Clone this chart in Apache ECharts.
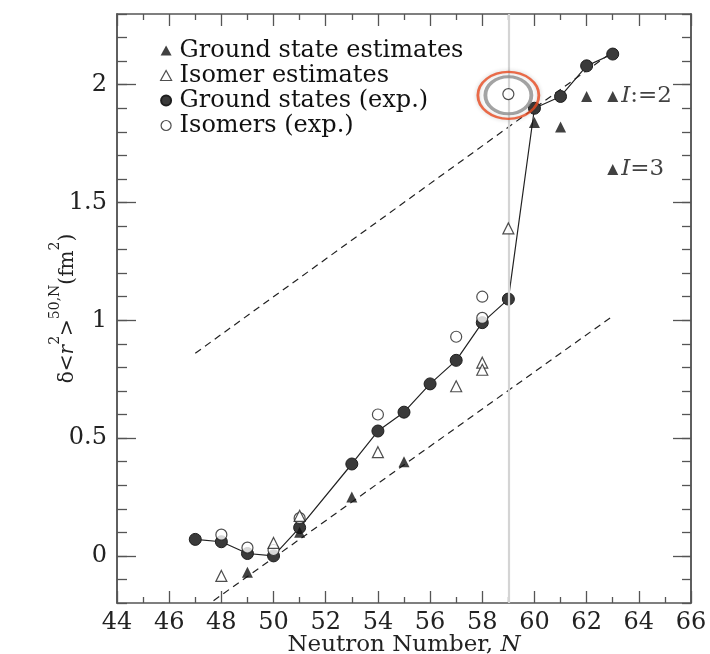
<!DOCTYPE html>
<html>
<head>
<meta charset="utf-8">
<script src="https://cdn.jsdelivr.net/npm/echarts@6/dist/echarts.min.js"></script>
<style>html,body{margin:0;padding:0;background:#fff;}#c{width:710px;height:654px;}</style>
</head>
<body>
<div id="c"></div>
<script>
// ---- data ----
const xTicks = [44, 46, 48, 50, 52, 54, 56, 58, 60, 62, 64, 66];
const yMajorTicks = [0, 0.5, 1, 1.5, 2];

const nGround = [47, 48, 49, 50, 51, 53, 54, 55, 56, 57, 58, 59, 60, 61, 62, 63];
const rGround = [0.07, 0.06, 0.01, 0.00, 0.12, 0.39, 0.53, 0.61, 0.73, 0.83, 0.99, 1.09, 1.90, 1.95, 2.08, 2.13];

const nIsoExp = [48, 49, 50, 51, 54, 57, 58, 58, 59];
const rIsoExp = [0.09, 0.035, 0.025, 0.16, 0.60, 0.93, 1.10, 1.01, 1.96];

const nGroundEst = [49, 51, 53, 55, 60, 61, 62, 63, 63];
const rGroundEst = [-0.07, 0.10, 0.25, 0.40, 1.84, 1.82, 1.95, 1.95, 1.64];
const groundEstTags = ['', '', '', '', '', '', '', 'I:=2', 'I=3'];

const nIsoEst = [48, 50, 51, 54, 57, 58, 58, 59];
const rIsoEst = [-0.085, 0.055, 0.17, 0.44, 0.72, 0.82, 0.79, 1.39];

const trendUpperN = [47, 63];
const trendUpperR = [0.86, 2.14];
const trendLowerN = [47.7, 62.9];
const trendLowerR = [-0.19, 1.01];

const highlightN = [59];
const highlightR = [1.955];
const shellN = 59;

// ---- chart ----
const FONT = 'DejaVu Serif';
const AX = '#555';
const zip = (a, b) => a.map((v, i) => [v, b[i]]);

const chart = echarts.init(document.getElementById('c'), null, {renderer: 'canvas'});

const baseX = {
  type: 'value', min: 44, max: 66, interval: 2,
  axisLine: {show: true, onZero: false, lineStyle: {color: AX, width: 1.5}},
  axisTick: {show: true, inside: true, length: 12, lineStyle: {color: AX, width: 1.3}},
  minorTick: {show: true, splitNumber: 2, length: 6, lineStyle: {color: AX, width: 1.3}},
  splitLine: {show: false}
};
const baseY = {
  type: 'value', min: -0.2, max: 2.3,
  axisLine: {show: true, onZero: false, lineStyle: {color: AX, width: 1.5}},
  splitLine: {show: false}
};

const option = {
  animation: false,
  backgroundColor: '#fff',
  grid: {left: 117, right: 19, top: 14, bottom: 51, containLabel: false, outerBoundsMode: 'none'},
  legend: {
    orient: 'vertical', left: 155, top: 33, itemGap: 0,
    itemWidth: 11, itemHeight: 10,
    textStyle: {fontFamily: FONT, fontSize: 24, color: '#111', lineHeight: 25, padding: [0, 0, 0, 3]},
    data: [
      {name: 'Ground state estimates', icon: 'triangle'},
      {name: 'Isomer estimates', icon: 'triangle', itemStyle: {borderWidth: 1.2}},
      {name: 'Ground states (exp.)', icon: 'circle'},
      {name: 'Isomers (exp.)', icon: 'circle', itemStyle: {borderWidth: 1.2}}
    ]
  },
  xAxis: [
    Object.assign({}, baseX, {
      position: 'bottom',
      axisLabel: {show: true, margin: 8, fontFamily: FONT, fontSize: 24, color: '#222',
        formatter: v => (xTicks.indexOf(v) >= 0 ? String(v) : '')},
      name: '{a|Neutron Number, }{i|N}',
      nameLocation: 'middle', nameGap: 31, nameMoveOverlap: false,
      nameTextStyle: {rich: {
        a: {fontFamily: FONT, fontSize: 23, color: '#222'},
        i: {fontFamily: FONT, fontSize: 23, fontStyle: 'italic', color: '#222'}
      }}
    }),
    Object.assign({}, baseX, {position: 'top', axisLabel: {show: false}})
  ],
  yAxis: [
    Object.assign({}, baseY, {
      position: 'left', interval: 0.1,
      axisTick: {show: true, inside: true, length: 10, lineStyle: {color: AX, width: 1.3}},
      axisLabel: {show: true, margin: 10, fontFamily: FONT, fontSize: 24, color: '#222',
        formatter: function (v) { const k = Math.round(v * 10); return (k % 5 === 0) ? String(k / 10) : ''; }},
      name: '{b|δ<}{i|r}{s|2}{b|>}{s|50,N}{b|(fm}{s|2}{b|)}',
      nameLocation: 'middle', nameGap: 39, nameRotate: 90, nameMoveOverlap: false,
      nameTextStyle: {rich: {
        b: {fontFamily: FONT, fontSize: 20, color: '#222', lineHeight: 30, verticalAlign: 'bottom'},
        i: {fontFamily: FONT, fontSize: 20, fontStyle: 'italic', color: '#222', lineHeight: 30, verticalAlign: 'bottom'},
        s: {fontFamily: FONT, fontSize: 14, color: '#222', verticalAlign: 'top', lineHeight: 30}
      }}
    }),
    Object.assign({}, baseY, {
      position: 'left',
      axisTick: {show: true, inside: true, length: 19, customValues: yMajorTicks, lineStyle: {color: AX, width: 1.3}},
      axisLabel: {show: false}
    }),
    Object.assign({}, baseY, {
      position: 'right', interval: 0.1,
      axisTick: {show: true, inside: true, length: 9, lineStyle: {color: AX, width: 1.3}},
      axisLabel: {show: false}
    }),
    Object.assign({}, baseY, {
      position: 'right',
      axisTick: {show: true, inside: true, length: 18, customValues: yMajorTicks, lineStyle: {color: AX, width: 1.3}},
      axisLabel: {show: false}
    })
  ],
  series: [
    {
      name: 'shell', type: 'line', data: [], silent: true,
      markLine: {
        silent: true, symbol: ['none', 'none'], label: {show: false},
        lineStyle: {color: '#d4d4d4', width: 2.2, type: 'solid'},
        data: [{xAxis: shellN}]
      }
    },
    {
      name: 'trendUpper', type: 'line', data: zip(trendUpperN, trendUpperR),
      symbol: 'none', silent: true, z: 2,
      lineStyle: {color: '#222', width: 1.2, type: [7, 5]}
    },
    {
      name: 'trendLower', type: 'line', data: zip(trendLowerN, trendLowerR),
      symbol: 'none', silent: true, z: 2,
      lineStyle: {color: '#222', width: 1.2, type: [7, 5]}
    },
    {
      name: 'Ground states (exp.)', type: 'line', data: zip(nGround, rGround),
      symbol: 'circle', symbolSize: 12, z: 4,
      lineStyle: {color: '#222', width: 1.2},
      itemStyle: {color: '#3a3a3a', borderColor: '#1e1e1e', borderWidth: 1}
    },
    {
      name: 'Isomers (exp.)', type: 'scatter', data: zip(nIsoExp, rIsoExp),
      symbol: 'circle', symbolSize: 11, z: 5,
      itemStyle: {color: '#fff', borderColor: '#222', borderWidth: 1.2}
    },
    {
      name: 'Isomer estimates', type: 'scatter', data: zip(nIsoEst, rIsoEst),
      symbol: 'triangle', symbolSize: 11, z: 5,
      itemStyle: {color: '#fff', borderColor: '#222', borderWidth: 1.2}
    },
    {
      name: 'Ground state estimates', type: 'scatter',
      data: nGroundEst.map((n, i) => {
        const d = {value: [n, rGroundEst[i]]};
        if (groundEstTags[i]) {
          const parts = groundEstTags[i].split('I');
          d.label = {show: true, position: 'right', distance: 3,
            formatter: '{i|I}{t|' + parts[1] + '}',
            rich: {
              i: {fontFamily: FONT, fontSize: 23, fontStyle: 'italic', color: '#111'},
              t: {fontFamily: FONT, fontSize: 23, color: '#111'}
            }};
        }
        return d;
      }),
      symbol: 'triangle', symbolSize: 11, z: 5,
      itemStyle: {color: '#111'}
    },
    {
      name: 'hlGrey', type: 'scatter', data: zip(highlightN, highlightR),
      symbol: 'circle', symbolSize: [46, 37], silent: true, z: 6,
      itemStyle: {color: 'transparent', borderColor: '#8c8c8c', borderWidth: 3.5}
    },
    {
      name: 'hlRed', type: 'scatter', data: zip(highlightN, highlightR),
      symbol: 'circle', symbolSize: [61, 47], silent: true, z: 7,
      itemStyle: {color: 'transparent', borderColor: '#e84a1f', borderWidth: 2.5,
        shadowColor: 'rgba(0,0,0,0.25)', shadowBlur: 4}
    }
  ]
};
chart.setOption(option);
</script>
</body>
</html>
